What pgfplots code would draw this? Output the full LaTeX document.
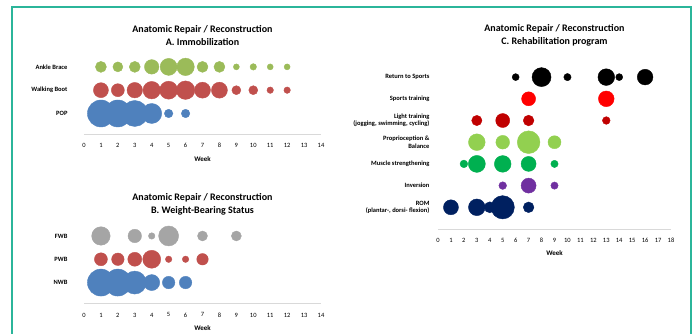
\documentclass[border=0pt]{standalone}
\usepackage{pgfplots}
\pgfplotsset{compat=1.18}
\usepackage{fontspec}
\setmainfont{Carlito}
\definecolor{frame}{RGB}{43,181,154}
\definecolor{xgreen}{RGB}{155,187,89}
\definecolor{xred}{RGB}{192,80,77}
\definecolor{xblue}{RGB}{79,129,189}
\definecolor{xgray}{RGB}{165,165,165}
\definecolor{cred}{RGB}{255,0,0}
\definecolor{cdred}{RGB}{192,0,0}
\definecolor{clgreen}{RGB}{146,208,80}
\definecolor{cgreen}{RGB}{0,176,80}
\definecolor{cpurple}{RGB}{112,48,160}
\definecolor{cnavy}{RGB}{0,32,96}
\definecolor{axgray}{RGB}{217,217,217}
\pgfplotsset{
  bub/.style={scatter, only marks, mark=*, color=#1,
    mark options={draw=#1, fill=#1},
    scatter/use mapped color={draw=#1, fill=#1},
    visualization depends on={\thisrow{d}/2 \as \rr},
    scatter/@pre marker code/.append style={/tikz/mark size=\rr}},
  panel/.style={scale only axis, clip=false, anchor=south west,
    axis lines*=left,
    x axis line style={axgray, line width=0.9pt},
    y axis line style={draw=none},
    tick style={draw=none},
    /pgf/number format/assume math mode=true,
    xtick distance=1,
    xticklabel style={font=\fontsize{6.5}{7}\selectfont, yshift=-6pt},
    yticklabel style={font=\bfseries\fontsize{6.5}{7.4}\selectfont, align=right}},
}
\begin{document}
\begin{tikzpicture}
\useasboundingbox (0pt,0pt) rectangle (694pt,334pt);
\draw[frame, line width=1.6pt] (12pt,0pt) -- (12pt,327pt) -- (691pt,327pt) -- (691pt,0pt);

% A. Immobilization
\begin{axis}[panel, at={(84pt,200pt)}, width=237pt, height=81.1pt,
  xmin=0, xmax=14, ymin=0.12, ymax=3.6,
  ytick={1,2,3}, yticklabels={POP,Walking Boot,Ankle Brace},
  yticklabel style={xshift=-13pt}]
\addplot[bub=xgreen] table[x=x,y=y]{
x y d
1 3 11
2 3 10
3 3 11
4 3 14.5
5 3 17
6 3 17.5
7 3 11
8 3 11
9 3 6
10 3 6.5
11 3 6
12 3 6
};
\addplot[bub=xred] table[x=x,y=y]{
x y d
1 2 15
2 2 13
3 2 15.5
4 2 17.5
5 2 18
6 2 18.5
7 2 16
8 2 16
9 2 9
10 2 9
11 2 6.5
12 2 6.5
};
\addplot[bub=xblue] table[x=x,y=y]{
x y d
1 1 27
2 1 27
3 1 26
4 1 20
5 1 8.5
6 1 8.5
};
\end{axis}

% B. Weight-Bearing Status
\begin{axis}[panel, at={(84pt,30.7pt)}, width=237pt, height=81.3pt,
  xmin=0, xmax=14, ymin=0.11, ymax=3.6,
  ytick={1,2,3}, yticklabels={NWB,PWB,FWB},
  yticklabel style={xshift=-13pt}]
\addplot[bub=xgray] table[x=x,y=y]{
x y d
1 3 18.5
3 3 13.5
4 3 6.5
5 3 20
7 3 10
9 3 10
};
\addplot[bub=xred] table[x=x,y=y]{
x y d
1 2 13
2 2 12.5
3 2 14
4 2 18
5 2 6.5
6 2 6.5
7 2 11.5
};
\addplot[bub=xblue] table[x=x,y=y]{
x y d
1 1 27
2 1 27
3 1 23
4 1 16
5 1 12.5
6 1 12.5
};
\end{axis}

% C. Rehabilitation program
\begin{axis}[panel, at={(438pt,105pt)}, width=233pt, height=164.9pt,
  xmin=0, xmax=18, ymin=0, ymax=7.6,
  ytick={1,2,3,4,5,6,7},
  yticklabels={{ROM\\(plantar-, dorsi- flexion)},Inversion,Muscle strengthening,{Proprioception \&\\Balance},{Light training\\(jogging, swimming, cycling)},Sports training,Return to Sports},
  yticklabel style={xshift=-5pt}]
\addplot[bub=black] table[x=x,y=y]{
x y d
6 7 7
8 7 19
10 7 7.3
13 7 16.7
14 7 7
16 7 15.7
};
\addplot[bub=cred] table[x=x,y=y]{
x y d
7 6 14
13 6 15.7
};
\addplot[bub=cdred] table[x=x,y=y]{
x y d
3 5 10.3
5 5 14
7 5 10.7
13 5 7.7
};
\addplot[bub=clgreen] table[x=x,y=y]{
x y d
3 4 16.7
5 4 13.7
7 4 22.7
9 4 13
};
\addplot[bub=cgreen] table[x=x,y=y]{
x y d
2 3 7.7
3 3 17
5 3 16.7
7 3 15
9 3 7.3
};
\addplot[bub=cpurple] table[x=x,y=y]{
x y d
5 2 7.7
7 2 15
9 2 7.3
};
\addplot[bub=cnavy] table[x=x,y=y]{
x y d
1 1 15
3 1 16.7
4 1 11
5 1 23.3
7 1 10.7
};
\end{axis}

% titles and axis titles
\node[font=\bfseries\fontsize{10}{13}\selectfont, align=center] at (202.5pt,298.5pt) {Anatomic Repair / Reconstruction\\A. Immobilization};
\node[font=\bfseries\fontsize{10}{13}\selectfont, align=center] at (202.5pt,129.5pt) {Anatomic Repair / Reconstruction\\B. Weight-Bearing Status};
\node[font=\bfseries\fontsize{10}{13}\selectfont, align=center] at (554.5pt,298.5pt) {Anatomic Repair / Reconstruction\\C. Rehabilitation program};
\node[font=\bfseries\fontsize{7}{8}\selectfont] at (202.5pt,175pt) {Week};
\node[font=\bfseries\fontsize{7}{8}\selectfont] at (202.5pt,6pt) {Week};
\node[font=\bfseries\fontsize{7}{8}\selectfont] at (554.5pt,81pt) {Week};
\end{tikzpicture}
\end{document}
